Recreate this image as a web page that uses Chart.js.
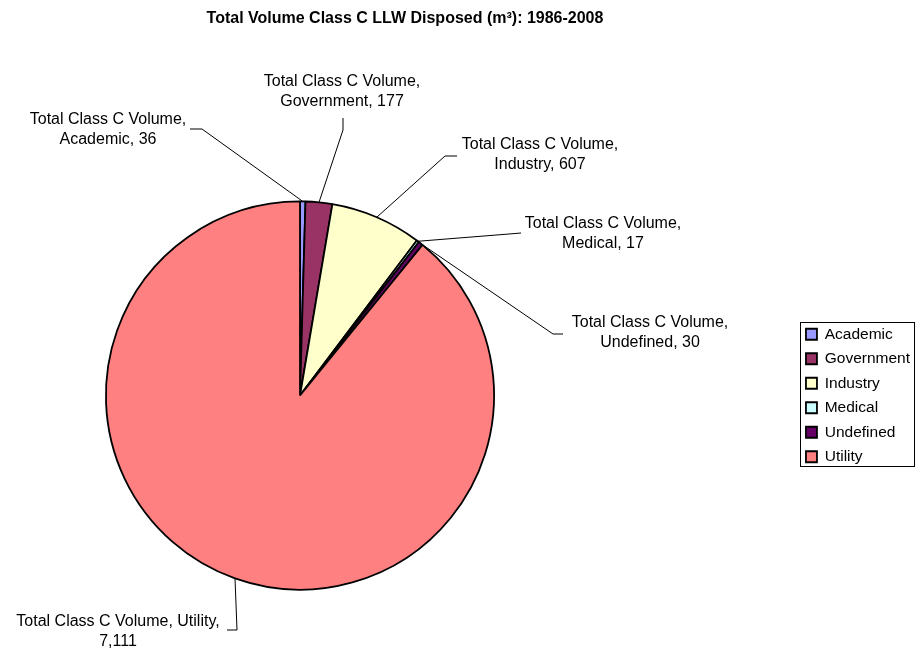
<!DOCTYPE html>
<html>
<head>
<meta charset="utf-8">
<script src="https://cdn.jsdelivr.net/npm/chart.js@4.4.0/dist/chart.umd.min.js"></script>
<style>
  html, body { margin: 0; padding: 0; background: #fff; }
  #wrap { width: 916px; height: 652px; position: relative; }
</style>
</head>
<body>
<div id="wrap"><canvas id="myChart"></canvas></div>
<script>
// data
const categories = ['Academic', 'Government', 'Industry', 'Medical', 'Undefined', 'Utility'];
const volumes = [36, 177, 607, 17, 30, 7111];
const seriesName = 'Total Class C Volume';
const sliceColors = ['#9999FF', '#993366', '#FFFFCC', '#CCFFFF', '#660066', '#FF8080'];

const FONT = '"Liberation Sans", Arial, sans-serif';

// where each data label sits: text centre (tx, first line ty), leader start (sx,sy) and elbow (ex,ey)
// wrap = how many comma parts go on the first line
const labelPlaces = [
  { tx: 108, ty: 120, sx: 190, sy: 129, ex: 202, ey: 129, wrap: 1 },
  { tx: 342, ty: 82,  sx: 343, sy: 118, ex: 343, ey: 130, wrap: 1 },
  { tx: 540, ty: 145, sx: 457, sy: 156, ex: 445, ey: 156, wrap: 1 },
  { tx: 603, ty: 224, sx: 521, sy: 233, ex: 509, ey: 234, wrap: 1 },
  { tx: 650, ty: 323, sx: 563, sy: 334, ex: 553, ey: 334, wrap: 1 },
  { tx: 118, ty: 622, sx: 227, sy: 630, ex: 237, ey: 630, wrap: 2 }
];
const TITLE_SPAN = 810; // title is centred over the pie + labels part, not the whole page

// keep the pie square at the left of the plot area
const layoutFix = {
  id: 'layoutFix',
  afterLayout(chart) {
    const a = chart.chartArea;
    a.width = a.bottom - a.top;
    a.right = a.left + a.width;
    const t = chart.titleBlock;
    t.left = 0;
    t.right = TITLE_SPAN;
    t.width = TITLE_SPAN;
  }
};

// data labels with leader lines
const leaderLabels = {
  id: 'leaderLabels',
  afterDatasetsDraw(chart) {
    const ctx = chart.ctx;
    const arcs = chart.getDatasetMeta(0).data;
    ctx.save();
    ctx.font = '16px ' + FONT;
    ctx.fillStyle = '#000';
    ctx.strokeStyle = '#000';
    ctx.lineWidth = 1;
    ctx.textAlign = 'center';
    ctx.textBaseline = 'middle';
    arcs.forEach((arc, i) => {
      const p = labelPlaces[i];
      const { x, y, startAngle, endAngle, outerRadius } =
        arc.getProps(['x', 'y', 'startAngle', 'endAngle', 'outerRadius'], true);
      const mid = (startAngle + endAngle) / 2;
      const px = x + Math.cos(mid) * outerRadius;
      const py = y + Math.sin(mid) * outerRadius;
      ctx.beginPath();
      ctx.moveTo(p.sx, p.sy);
      ctx.lineTo(p.ex, p.ey);
      ctx.lineTo(px, py);
      ctx.stroke();

      const parts = [seriesName, categories[i], volumes[i].toLocaleString('en-US')];
      const lines = [parts.slice(0, p.wrap).join(', ') + ',', parts.slice(p.wrap).join(', ')];
      lines.forEach((t, k) => ctx.fillText(t, p.tx, p.ty + k * 20));
    });
    ctx.restore();
  }
};

// thin frame round the legend
const legendFrame = {
  id: 'legendFrame',
  afterDraw(chart) {
    const hb = chart.legend.legendHitBoxes;
    if (!hb || !hb.length) return;
    const first = hb[0], last = hb[hb.length - 1];
    const ctx = chart.ctx;
    ctx.save();
    ctx.strokeStyle = '#000';
    ctx.lineWidth = 1;
    const x0 = Math.round(first.left - 6) + 0.5;
    const y0 = Math.round(first.top - 5) + 0.5;
    const x1 = chart.width - 1.5;
    const y1 = Math.round(last.top + last.height + 1) + 0.5;
    ctx.strokeRect(x0, y0, x1 - x0, y1 - y0);
    ctx.restore();
  }
};

const data = {
  labels: categories,
  datasets: [{
    label: seriesName,
    data: volumes,
    backgroundColor: sliceColors,
    borderColor: '#000',
    borderWidth: 1.8,
    clip: false
  }]
};

const config = {
  type: 'pie',
  data: data,
  options: {
    responsive: true,
    maintainAspectRatio: false,
    animation: false,
    events: [],
    layout: {
      padding: { left: 105, right: -4, top: 0, bottom: 61.5 }
    },
    plugins: {
      title: {
        display: true,
        text: 'Total Volume Class C LLW Disposed (m³): 1986-2008',
        color: '#000',
        font: { family: FONT, size: 16, weight: 'bold' },
        padding: { top: 9, bottom: 172.3 }
      },
      legend: {
        position: 'right',
        fullSize: false,
        align: 'center',
        labels: {
          boxWidth: 11,
          boxHeight: 11,
          padding: 9,
          color: '#000',
          font: { family: FONT, size: 15.5 }
        }
      },
      tooltip: { enabled: false }
    }
  },
  plugins: [layoutFix, leaderLabels, legendFrame]
};

const ctx = document.getElementById('myChart').getContext('2d');
let myChart = new Chart(ctx, config);
</script>
</body>
</html>
